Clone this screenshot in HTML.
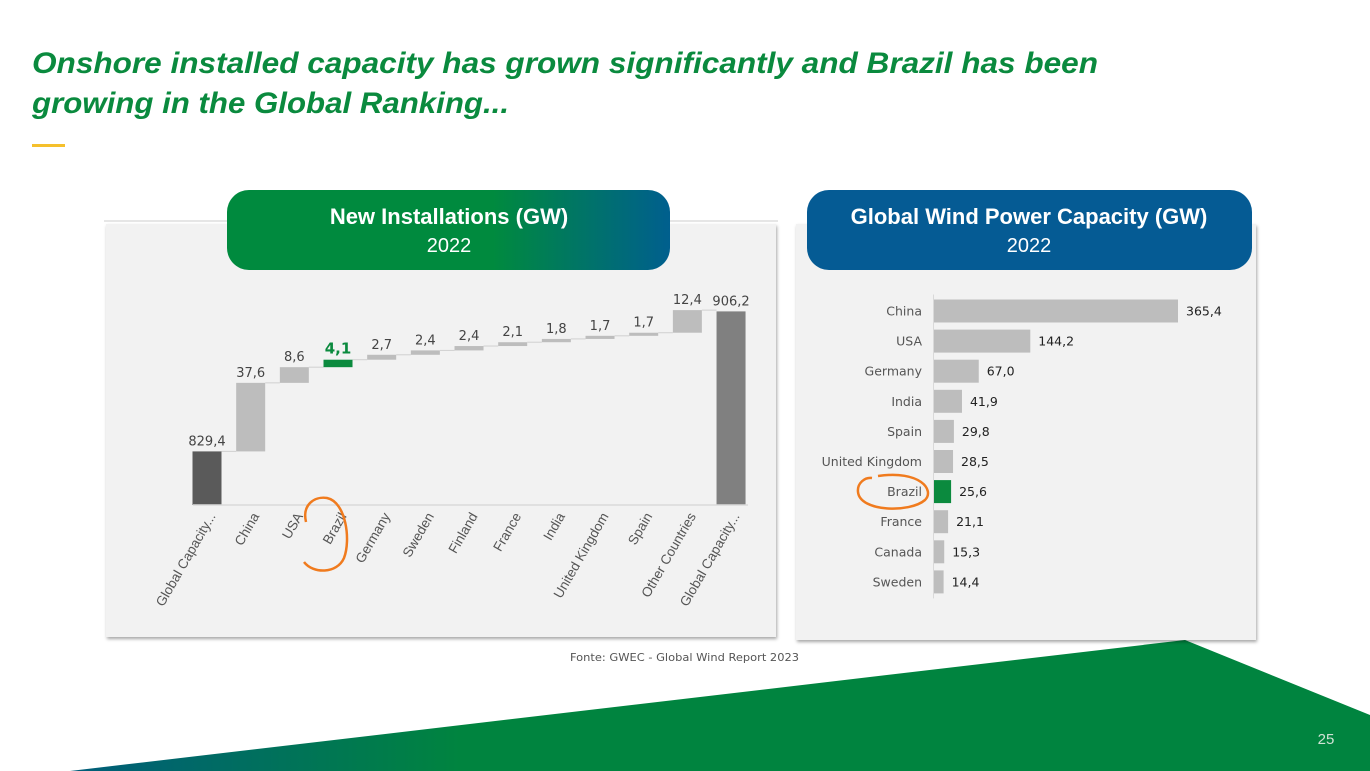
<!DOCTYPE html>
<html><head><meta charset="utf-8"><style>
html,body{margin:0;padding:0;background:#fff;}
svg{display:block;font-family:"Liberation Sans","DejaVu Sans",sans-serif;}
</style></head><body>
<svg id="s" width="1370" height="771" viewBox="0 0 1370 771" xmlns="http://www.w3.org/2000/svg">
<defs>
<linearGradient id="gL" x1="0" x2="1" y1="0" y2="0"><stop offset="0" stop-color="#008a3e"/><stop offset="0.6" stop-color="#008a3e"/><stop offset="1" stop-color="#005f8e"/></linearGradient>
<linearGradient id="gB" x1="0" x2="1" y1="0" y2="0"><stop offset="0" stop-color="#005c7a"/><stop offset="0.3" stop-color="#00843f"/><stop offset="1" stop-color="#00843f"/></linearGradient>
<filter id="sh" x="-5%" y="-5%" width="110%" height="115%"><feDropShadow dx="1" dy="2" stdDeviation="1.5" flood-color="#000" flood-opacity="0.35"/></filter>
</defs>
<g fill="#0a8a3e" font-weight="bold" font-style="italic" font-size="30">
<text x="32" y="73" textLength="1066" lengthAdjust="spacingAndGlyphs">Onshore installed capacity has grown significantly and Brazil has been</text>
<text x="32" y="113" textLength="477" lengthAdjust="spacingAndGlyphs">growing in the Global Ranking...</text>
</g>
<rect x="32" y="144" width="33" height="3" fill="#f5c02c"/>
<polygon points="70,771 1185,640 1370,715 1370,771" fill="url(#gB)"/>
<text x="1326" y="744" font-size="15" fill="#cfe3d5" text-anchor="middle">25</text>
<text x="570" y="661" font-size="11" fill="#555" font-family="DejaVu Sans, sans-serif" textLength="229" lengthAdjust="spacingAndGlyphs">Fonte: GWEC - Global Wind Report 2023</text>

<line x1="104" y1="221" x2="778" y2="221" stroke="#ccc"/>
<rect x="106" y="224" width="670" height="413" fill="#f2f2f2" filter="url(#sh)"/>
<rect x="796" y="224" width="460" height="416" fill="#f2f2f2" filter="url(#sh)"/>
<g>
<rect x="227" y="190" width="443" height="80" rx="22" fill="url(#gL)"/>
<text x="449" y="224" text-anchor="middle" fill="#fff" font-weight="bold" font-size="22">New Installations (GW)</text>
<text x="449" y="252" text-anchor="middle" fill="#fff" font-size="20">2022</text>
</g>
<g>
<rect x="807" y="190" width="445" height="80" rx="22" fill="#055b94"/>
<text x="1029" y="224" text-anchor="middle" fill="#fff" font-weight="bold" font-size="22">Global Wind Power Capacity (GW)</text>
<text x="1029" y="252" text-anchor="middle" fill="#fff" font-size="20">2022</text>
</g>
<g id="wf"></g>
<g id="hb"></g>
<path d="M306,522 C302,505 314,496 327,498 C346,502 351,540 344,558 C337,574 313,574 304,562" fill="none" stroke="#f07b1e" stroke-width="2.5"/>
<path d="M878,476 C920,470 935,490 925,500 C910,513 860,512 858,492 C857,483 865,477 872,478" fill="none" stroke="#f07b1e" stroke-width="2.5"/>
</svg>
<script>
const wfCategories = ["Global Capacity...","China","USA","Brazil","Germany","Sweden","Finland","France","India","United Kingdom","Spain","Other Countries","Global Capacity..."];
const wfValues = [829.4,37.6,8.6,4.1,2.7,2.4,2.4,2.1,1.8,1.7,1.7,12.4,906.2];
const wfLabels = ["829,4","37,6","8,6","4,1","2,7","2,4","2,4","2,1","1,8","1,7","1,7","12,4","906,2"];
const hbCategories = ["China","USA","Germany","India","Spain","United Kingdom","Brazil","France","Canada","Sweden"];
const hbValues = [365.4,144.2,67.0,41.9,29.8,28.5,25.6,21.1,15.3,14.4];
const hbLabels = ["365,4","144,2","67,0","41,9","29,8","28,5","25,6","21,1","15,3","14,4"];
const NS="http://www.w3.org/2000/svg";
function mk(t,a,p){const e=document.createElementNS(NS,t);for(const k in a)e.setAttribute(k,a[k]);p.appendChild(e);return e;}
const wf=document.getElementById('wf');
const yMin=800, base=505, ppu=1.823;
const wy=v=>base-(v-yMin)*ppu;
const wx=i=>207+i*43.67;
const bw=29;
let cum=0;
wfValues.forEach((v,i)=>{
  const total=(i===0||i===wfValues.length-1);
  let top,bot;
  if(total){top=wy(v);bot=base;cum=v;}else{bot=wy(cum);cum+=v;top=wy(cum);}
  const isBr=wfCategories[i]==="Brazil";
  const col= i===0?"#5a5a5a": total?"#808080": isBr?"#0b8a3e":"#bdbdbd";
  const r=mk('rect',{x:wx(i)-bw/2,y:top,width:bw,height:Math.max(bot-top,1),fill:col},wf);
  
  
  if(i<wfValues.length-1){
    const l=mk('line',{x1:wx(i)+bw/2,y1:top,x2:wx(i+1)-bw/2,y2:top,stroke:"#d0d0d0","stroke-width":1},wf);
    
    
  }
  const t=mk('text',{x:wx(i),y:top-6,"text-anchor":"middle","font-size":isBr?15:13,"font-family":"DejaVu Sans, sans-serif",fill:isBr?"#0b8a3e":"#444","font-weight":isBr?"bold":"normal"},wf);
  t.textContent=wfLabels[i];
  
  
  const lx=wx(i)+9, ly=516;
  const c=mk('text',{x:lx,y:ly,"text-anchor":"end","font-size":13.5,fill:"#555",transform:`rotate(-60 ${lx} ${ly})`},wf);
  c.textContent=wfCategories[i];
  
  
});
const ax=mk('line',{x1:193,y1:base,x2:748,y2:base,stroke:"#d9d9d9","stroke-width":1.5},wf);


const hb=document.getElementById('hb');
const x0=934, hp=244/365.4, y0=311, sp=30.1, bh=23;
const av=mk('line',{x1:x0-0.5,y1:y0-bh/2-5,x2:x0-0.5,y2:y0+9*sp+bh/2+5,stroke:"#d9d9d9"},hb);


hbValues.forEach((v,i)=>{
  const y=y0+i*sp, w=v*hp;
  const isBr=hbCategories[i]==="Brazil";
  const r=mk('rect',{x:x0,y:y-bh/2,width:w,height:bh,fill:isBr?"#0b8a3e":"#bdbdbd"},hb);
  
  
  const c=mk('text',{x:922,y:y+4.5,"text-anchor":"end","font-size":12.5,fill:"#555","font-family":"DejaVu Sans, sans-serif"},hb);
  c.textContent=hbCategories[i];
  
  
  const t=mk('text',{x:x0+w+8,y:y+4.5,"font-size":12.5,fill:"#222","font-family":"DejaVu Sans, sans-serif"},hb);
  t.textContent=hbLabels[i];
  
  
});
</script>
</body></html>
